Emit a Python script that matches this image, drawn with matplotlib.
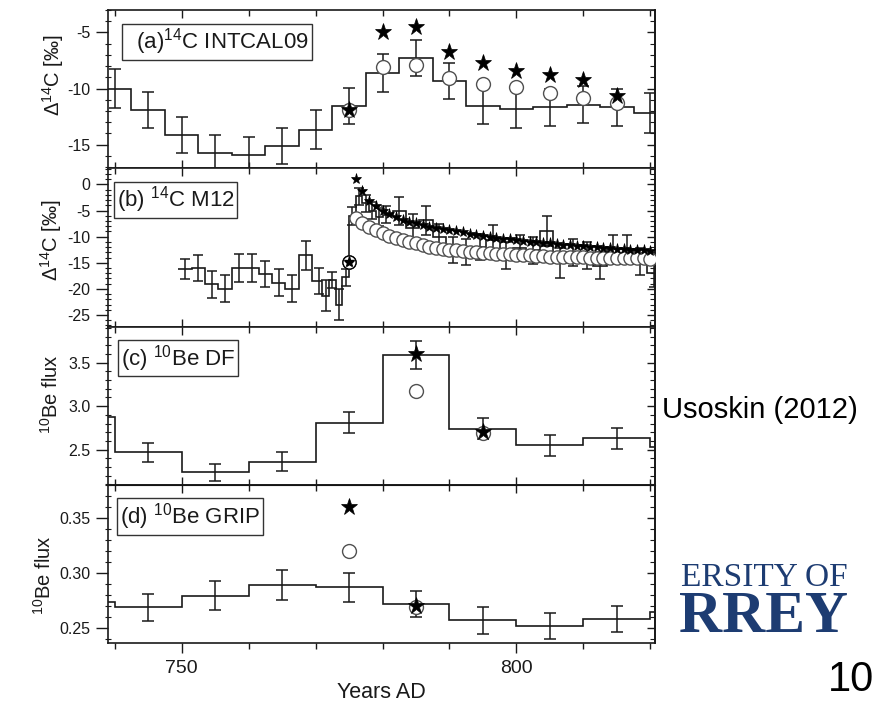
import numpy as np
import matplotlib
matplotlib.use("Agg")
import matplotlib.pyplot as plt
from matplotlib.ticker import MultipleLocator, FormatStrFormatter

plt.rcParams['font.family'] = ['Liberation Sans', 'DejaVu Sans']
plt.rcParams['axes.unicode_minus'] = False
plt.rcParams['mathtext.fontset'] = 'custom'
plt.rcParams['mathtext.rm'] = 'Liberation Sans'
plt.rcParams['mathtext.it'] = 'Liberation Sans:italic'
plt.rcParams['mathtext.bf'] = 'Liberation Sans:bold'
plt.rcParams['mathtext.default'] = 'regular'

# ---------------- data ----------------
# (a) 14C INTCAL09 (5-yr)
intcal_year = [740, 745, 750, 755, 760, 765, 770, 775, 780, 785, 790, 795, 800, 805, 810, 815, 820]
intcal_val = [-10.0, -11.9, -14.1, -15.75, -15.9, -15.15, -13.65, -11.55, -8.6, -7.3,
              -9.3, -11.55, -11.85, -11.65, -11.45, -11.65, -12.2]
intcal_err = [1.7, 1.6, 1.6, 1.6, 1.6, 1.6, 1.7, 1.6, 1.7, 1.6, 1.6, 1.6, 1.65, 1.65, 1.65, 1.65, 1.8]
a_mod_year = [775, 780, 785, 790, 795, 800, 805, 810, 815]
a_star = [-11.9, -5.0, -4.55, -6.7, -7.7, -8.4, -8.8, -9.2, -10.7]
a_circ = [-11.9, -8.1, -7.9, -9.1, -9.6, -9.9, -10.4, -10.8, -11.3]

# (b) 14C M12
m12_year = [750.5, 752.5, 754.5, 756.5, 758.5, 760.5, 762.5, 764.5, 766.5, 768.5,
            770.5, 771.5, 772.5, 773.5, 774.5, 775.5, 776.5, 777.5, 778.5, 779.5,
            780.5, 782.5, 784.5, 786.5, 788.5, 790.5, 792.5, 794.5, 796.5, 798.5,
            800.5, 802.5, 804.5, 806.5, 808.5, 810.5, 812.5, 814.5, 816.5, 818.5, 820.5]
m12_val = [-16.2, -16.0, -19.1, -20.0, -16.0, -16.0, -17.2, -18.8, -20.0, -13.6,
           -18.5, -21.3, -18.3, -23.0, -17.8, -6.0, -2.3, -3.6, -5.0, -6.3,
           -5.8, -5.1, -8.3, -6.9, -10.0, -12.5, -13.0, -12.0, -10.6, -13.6,
           -12.2, -12.6, -8.9, -15.1, -13.0, -13.6, -15.6, -12.4, -12.4, -14.7, -17.0]
m12_err = [2.0, 2.5, 2.6, 2.6, 2.6, 2.6, 2.5, 2.6, 2.6, 2.7,
           2.5, 3.0, 1.6, 3.0, 1.7, 1.7, 1.6, 1.6, 1.6, 1.7,
           1.6, 2.7, 2.6, 2.7, 2.5, 2.5, 2.5, 2.5, 2.8, 2.6,
           2.5, 2.6, 2.8, 2.9, 2.6, 2.6, 2.6, 2.8, 2.8, 2.6, 2.6]
b_mod_year = list(range(775, 821))
b_star = [-14.9, 1.0, -1.3, -3.1, -4.2, -5.1, -5.7, -6.3, -6.8, -7.1,
          -7.4, -7.8, -8.1, -8.3, -8.5, -8.8, -9.0, -9.2, -9.4, -9.6,
          -9.8, -10.0, -10.2, -10.4, -10.5, -10.7, -10.8, -11.0, -11.1, -11.2,
          -11.3, -11.4, -11.5, -11.6, -11.7, -11.8, -11.9, -12.0, -12.1, -12.2,
          -12.3, -12.4, -12.5, -12.5, -12.6, -12.7]
b_circ = [-14.9, -6.4, -7.4, -8.1, -8.8, -9.3, -9.8, -10.2, -10.6, -11.0,
          -11.3, -11.6, -11.9, -12.1, -12.3, -12.5, -12.6, -12.8, -12.9, -13.0,
          -13.1, -13.2, -13.3, -13.4, -13.4, -13.5, -13.6, -13.6, -13.7, -13.7,
          -13.8, -13.8, -13.8, -13.9, -13.9, -13.9, -14.0, -14.0, -14.0, -14.0,
          -14.1, -14.1, -14.1, -14.1, -14.1, -14.2]

# (c) 10Be DF (10-yr)
df_year = [735, 745, 755, 765, 775, 785, 795, 805, 815, 825]
df_val = [2.87, 2.47, 2.24, 2.36, 2.81, 3.59, 2.74, 2.55, 2.63, 2.53]
df_err = [None, 0.11, 0.10, 0.11, 0.12, 0.16, 0.12, 0.12, 0.12, None]
c_mod_year = [785, 795]
c_star = [3.60, 2.70]
c_circ = [3.17, 2.69]

# (d) 10Be GRIP (10-yr)
grip_year = [735, 745, 755, 765, 775, 785, 795, 805, 815, 825]
grip_val = [0.2737, 0.2693, 0.2797, 0.2896, 0.2872, 0.2722, 0.2573, 0.2522, 0.2588, 0.2648]
grip_err = [None, 0.0122, 0.013, 0.0135, 0.0136, 0.0122, 0.012, 0.0115, 0.012, None]
d_mod_year = [775, 785]
d_star = [0.360, 0.270]
d_circ = [0.320, 0.2695]

panel_labels = [r"  (a)$^{14}$C INTCAL09", r"(b) $^{14}$C M12", r"(c) $^{10}$Be DF", r"(d) $^{10}$Be GRIP"]
ylabels = [r"$\Delta$$^{14}$C [‰]", r"$\Delta$$^{14}$C [‰]", r"$^{10}$Be flux", r"$^{10}$Be flux"]

# ---------------- figure ----------------
W, H = 876, 706
fig = plt.figure(figsize=(W / 100, H / 100), dpi=100)
L_px, R_px, T_px, B_px = 108, 655, 10, 643
ph = (B_px - T_px) / 4
axes = []
for i in range(4):
    y0 = 1 - (T_px + (i + 1) * ph) / H
    axes.append(fig.add_axes([L_px / W, y0, (R_px - L_px) / W, ph / H]))

LC = '#1a1a1a'


def edges_from_centers(c):
    c = np.asarray(c, float)
    mid = (c[1:] + c[:-1]) / 2
    return np.concatenate([[c[0] - (c[1] - c[0]) / 2], mid, [c[-1] + (c[-1] - c[-2]) / 2]])


def draw_hist(ax, x, v, e, lw=1.2, cap=4):
    ax.stairs(v, edges_from_centers(x), baseline=None, color=LC, lw=lw, zorder=2)
    xe = [xx for xx, ee in zip(x, e) if ee is not None]
    ve = [vv for vv, ee in zip(v, e) if ee is not None]
    ee = [ee for ee in e if ee is not None]
    ax.errorbar(xe, ve, yerr=ee, fmt='none', ecolor=LC, elinewidth=1.1, capsize=cap,
                capthick=1.1, zorder=2)


def draw_model(ax, x, star, circ, ms_s, ms_c):
    ax.plot(x, circ, 'o', ms=ms_c, mfc='white', mec='#505050', mew=1.0, ls='none', zorder=3)
    ax.plot(x, star, '*', ms=ms_s, mfc='black', mec='black', mew=0.5, ls='none', zorder=4)


draw_hist(axes[0], intcal_year, intcal_val, intcal_err, cap=4.5)
draw_model(axes[0], a_mod_year, a_star, a_circ, 12.5, 10)

draw_hist(axes[1], m12_year, m12_val, m12_err, cap=3.5)
draw_model(axes[1], b_mod_year, b_star, b_circ, 8, 9.5)
axes[1].plot([b_mod_year[0]], [b_circ[0]], 'o', ms=9.5, mfc='white', mec='black', mew=1.0, zorder=4)
axes[1].plot([b_mod_year[0]], [b_star[0]], '*', ms=8, color='black', zorder=5)

draw_hist(axes[2], df_year, df_val, df_err, cap=4.5)
draw_model(axes[2], c_mod_year, c_star, c_circ, 12.5, 10)

draw_hist(axes[3], grip_year, grip_val, grip_err, cap=4.5)
draw_model(axes[3], d_mod_year, d_star, d_circ, 12.5, 10)

ylims = [(-17.1, -3.0), (-27.2, 3.1), (2.096, 3.915), (0.2368, 0.3805)]
ymaj = [5, 5, 0.5, 0.05]
ymin = [1, 1, 0.1, 0.01]
yfmt = ['%d', '%d', '%.1f', '%.2f']
ylab_pos = [(-0.076, 0.59), (-0.080, 0.545), (-0.084, 0.573), (-0.098, 0.43)]
box_pos = [(0.030, 0.80), (0.016, 0.80), (0.024, 0.80), (0.022, 0.80)]

for i, ax in enumerate(axes):
    ax.set_xlim(739, 820.7)
    ax.set_ylim(*ylims[i])
    for s in ax.spines.values():
        s.set_linewidth(1.2)
        s.set_color(LC)
    ax.xaxis.set_major_locator(MultipleLocator(50))
    ax.xaxis.set_minor_locator(MultipleLocator(10))
    ax.yaxis.set_major_locator(MultipleLocator(ymaj[i]))
    ax.yaxis.set_minor_locator(MultipleLocator(ymin[i]))
    ax.yaxis.set_major_formatter(FormatStrFormatter(yfmt[i]))
    ax.tick_params(axis='y', which='major', direction='out', length=8.3, width=1.0,
                   labelsize=11.5, colors=LC, right=False, pad=4.5)
    ax.tick_params(axis='y', which='minor', direction='inout', length=4.5, width=0.8,
                   colors=LC, right=False)
    sy = ax.secondary_yaxis('right')
    sy.yaxis.set_major_locator(MultipleLocator(ymaj[i]))
    sy.yaxis.set_minor_locator(MultipleLocator(ymin[i]))
    sy.tick_params(axis='y', which='major', direction='in', length=6, width=1.0,
                   labelright=False, colors=LC)
    sy.tick_params(axis='y', which='minor', direction='in', length=3.5, width=0.8, colors=LC)
    sy.spines['right'].set_linewidth(1.2)
    if i < 3:
        ax.tick_params(axis='x', which='major', direction='in', length=5.5, width=1.0,
                       top=True, bottom=True, labelbottom=False, colors=LC)
        ax.tick_params(axis='x', which='minor', direction='in', length=4, width=1.0,
                       top=True, bottom=True, colors=LC)
    else:
        ax.tick_params(axis='x', which='major', direction='out', length=7, width=1.0,
                       top=False, bottom=True, labelsize=14, colors=LC, pad=5)
        ax.tick_params(axis='x', which='minor', direction='out', length=4.5, width=1.0,
                       top=False, bottom=True, colors=LC)
        sx = ax.secondary_xaxis('top')
        sx.xaxis.set_major_locator(MultipleLocator(50))
        sx.xaxis.set_minor_locator(MultipleLocator(10))
        sx.tick_params(axis='x', which='major', direction='in', length=5.5, width=1.0,
                       labeltop=False, colors=LC)
        sx.tick_params(axis='x', which='minor', direction='in', length=4, width=1.0, colors=LC)
        ax.set_xlabel('Years AD', fontsize=15.5, color=LC, labelpad=4)
    ax.set_ylabel(ylabels[i], fontsize=14.5, color=LC)
    ax.yaxis.set_label_coords(*ylab_pos[i])
    bx, by = box_pos[i]
    ax.text(bx, by, panel_labels[i], transform=ax.transAxes,
            fontsize=16, color=LC, va='center', ha='left', zorder=6,
            bbox=dict(boxstyle='square,pad=0.12', fc='white', ec='#333333', lw=1.0))

# right-hand annotations
fig.text(662 / W, 1 - 410 / H, 'Usoskin (2012)', fontsize=21, color='black',
         ha='left', va='center')
fig.text(681 / W, 1 - 578 / H, 'ERSITY OF', fontsize=24, color='#1d3c72',
         family=['Liberation Serif', 'DejaVu Serif'], ha='left', va='center')
fig.text(679 / W, 1 - 618 / H, 'RREY', fontsize=43, color='#1d3c72', fontweight='bold',
         family=['Liberation Serif', 'DejaVu Serif'], ha='left', va='center')
fig.text(874 / W, 1 - 680 / H, '10', fontsize=30, color='black', ha='right', va='center')

fig.savefig('out.png', dpi=100)
